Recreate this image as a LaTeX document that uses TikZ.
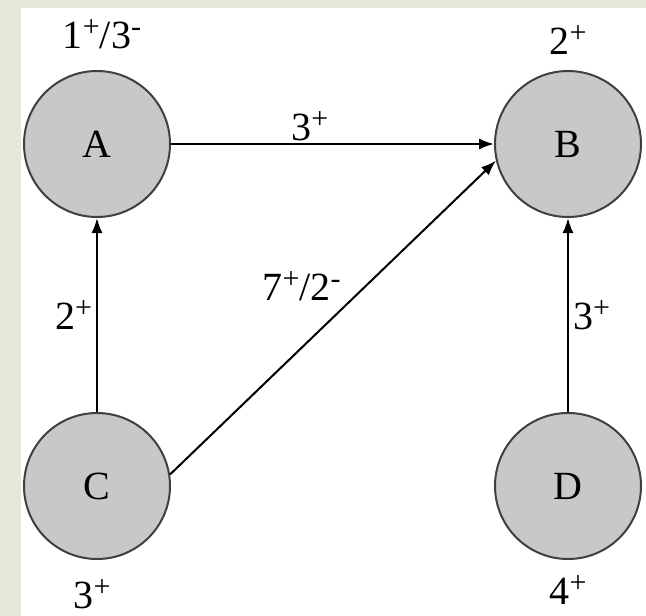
\documentclass[tikz,border=0pt]{standalone}
\usepackage{fontspec}
\setmainfont{Liberation Serif}
\usetikzlibrary{arrows.meta}
\definecolor{framebg}{RGB}{229,232,214}
\definecolor{nodefill}{RGB}{200,200,200}
\newcommand{\charge}[1]{\raisebox{0.3em}{\fontsize{30}{30}\selectfont#1}}
\begin{document}
\begin{tikzpicture}[x=1pt, y=-1pt, node distance=342pt, every node/.style={font=\fontsize{40}{44}\selectfont, inner sep=2pt},
  vertex/.style={circle, draw=black!75, line width=2pt, fill=nodefill, minimum size=146pt, inner sep=0pt},
  arc/.style={-{Latex[length=15pt,width=11pt]}, line width=2pt}]
\useasboundingbox (0,0) rectangle (646,616);
\fill[framebg] (0,0) rectangle (646,616);
\fill[white] (21,8) rectangle (646,616);
\node[vertex] (A) at (97,144) {A};
\node[vertex, right of=A, xshift=129pt] (B) {B};
\node[vertex, below of=A] (C) {C};
\node[vertex, right of=C, xshift=129pt] (D) {D};
\node[above of=A, node distance=110pt, xshift=5pt] (wA) {1\charge{+}/3\charge{-}};
\node[above of=B, node distance=104pt] (wB) {2\charge{+}};
\node[below of=C, node distance=108pt, xshift=-5pt] (wC) {3\charge{+}};
\node[below of=D, node distance=104pt] (wD) {4\charge{+}};
\draw[arc] (A) -- node[above, pos=0.43] (eAB) {3\charge{+}} (B);
\draw[arc] (C) -- node[anchor=east, xshift=-2pt] (eCA) {2\charge{+}} (A);
\draw[arc] (D) -- node[anchor=west, xshift=2pt] (eDB) {3\charge{+}} (B);
\draw[arc] (C.9) -- node[pos=0.6, left=22pt] (eCB) {7\charge{+}/2\charge{-}} (B.193);
\end{tikzpicture}
\end{document}
